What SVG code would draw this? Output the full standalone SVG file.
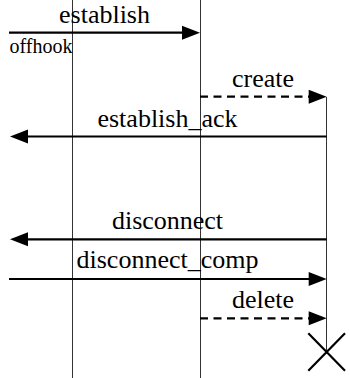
<svg xmlns="http://www.w3.org/2000/svg" width="350" height="378" viewBox="0 0 350 378">
<style>
.life{stroke:#333;stroke-width:1;fill:none}
.msg{stroke:#000;stroke-width:2.2;fill:none}
.dash{stroke-dasharray:8 5.5}
text{font-family:'Liberation Serif','DejaVu Serif',serif;fill:#000}
.lbl{font-size:26px;text-anchor:middle}
.small{font-size:20px}
.head{fill:#000;stroke:none}
</style>
<rect width="350" height="378" fill="#fff"/>
<g id="lifeline-a"><line class="life" x1="72.5" y1="0" x2="72.5" y2="378"/></g>
<g id="lifeline-b"><line class="life" x1="200.5" y1="0" x2="200.5" y2="378"/></g>
<g id="lifeline-c">
<line class="life" x1="326.5" y1="97" x2="326.5" y2="352"/>
<path d="M308.3,333.3 L345,370.7 M345,333.3 L308.3,370.7" stroke="#000" stroke-width="2.2" fill="none"/>
</g>
<g id="connectors">
<g id="m-establish">
<line class="msg" x1="9" y1="32.7" x2="184" y2="32.7"/>
<polygon class="head" points="200,32.7 182,25.7 182,39.7"/>
<text class="lbl" x="104.5" y="23.3" font-family="Liberation Serif, serif">establish</text>
<text class="small" x="9.5" y="52.7" font-family="Liberation Serif, serif">offhook</text>
</g>
<g id="m-create">
<line class="msg dash" x1="200" y1="96.7" x2="310" y2="96.7"/>
<polygon class="head" points="326.7,96.7 308.7,89.7 308.7,103.7"/>
<text class="lbl" x="263" y="86.7">create</text>
</g>
<g id="m-establish-ack">
<line class="msg" x1="326.7" y1="136.5" x2="26" y2="136.5"/>
<polygon class="head" points="10,136.5 28,129.5 28,143.5"/>
<text class="lbl" x="167.5" y="126.7">establish_ack</text>
</g>
<g id="m-disconnect">
<line class="msg" x1="326.7" y1="239.3" x2="26" y2="239.3"/>
<polygon class="head" points="10,239.3 28,232.3 28,246.3"/>
<text class="lbl" x="167.5" y="228.5">disconnect</text>
</g>
<g id="m-disconnect-comp">
<line class="msg" x1="9" y1="279" x2="310" y2="279"/>
<polygon class="head" points="326.7,279 308.7,272 308.7,286"/>
<text class="lbl" x="167.5" y="268">disconnect_comp</text>
</g>
<g id="m-delete">
<line class="msg dash" x1="200" y1="318.3" x2="310" y2="318.3"/>
<polygon class="head" points="326.7,318.3 308.7,311.3 308.7,325.3"/>
<text class="lbl" x="263" y="308.3">delete</text>
</g>
</g>
</svg>
